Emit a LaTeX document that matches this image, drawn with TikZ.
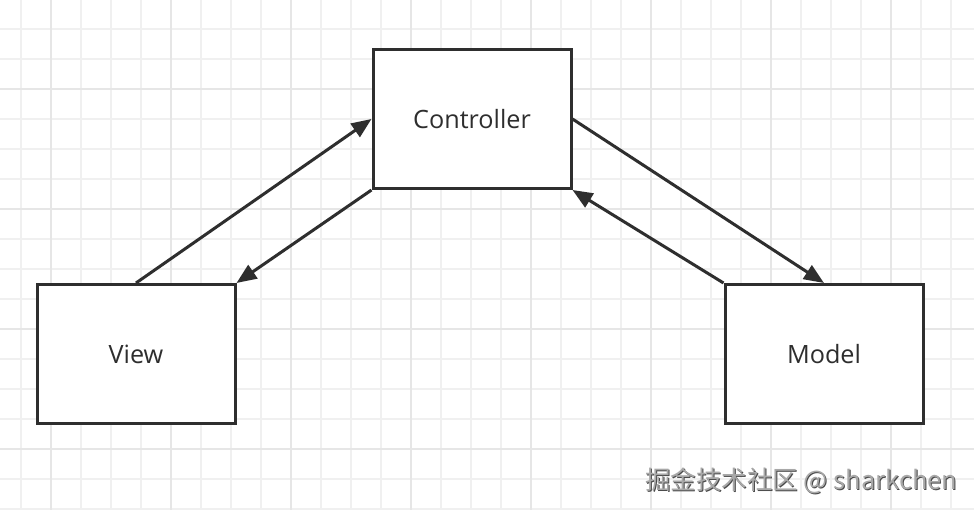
\documentclass[tikz,border=0pt]{standalone}
\usepackage{fontspec}
\setmainfont{Open Sans}
\newfontfamily\cjk{Noto Sans CJK SC}
\usetikzlibrary{arrows.meta}
\definecolor{ink}{HTML}{2E2E2E}
\definecolor{gridminor}{HTML}{F0F0F0}
\definecolor{gridmajor}{HTML}{E6E6E6}
\definecolor{wmfill}{HTML}{A8A8A8}
\definecolor{wmshadow}{HTML}{4A4A4A}
\tikzset{
  mvcbox/.style={draw=ink, fill=white, line width=3pt, minimum width=198pt, minimum height=139pt, inner sep=0pt, font=\fontsize{25.2}{30}\selectfont, text=ink},
  flow/.style={draw=ink, line width=3pt, -{Triangle[length=20pt,width=16pt]}},
  wm/.style={font=\cjk\fontsize{25.5}{30}\selectfont, anchor=west, inner sep=0pt}
}
\begin{document}
\begin{tikzpicture}[x=1pt,y=-1pt]
\fill[white] (0,0) rectangle (974,510);
\useasboundingbox (0,0) rectangle (974,510);
\foreach \x in {21,51,...,981} \draw[gridminor, line width=1.1pt] (\x,0) -- (\x,510);
\foreach \y in {-1,29,...,509} \draw[gridminor, line width=1.1pt] (0,\y) -- (974,\y);
\foreach \x in {51,171,...,891} \draw[gridmajor, line width=1.3pt] (\x,0) -- (\x,510);
\foreach \y in {89,209,...,449} \draw[gridmajor, line width=1.3pt] (0,\y) -- (974,\y);

\node[mvcbox] (ctrl) at (472,119) {Controller};
\node[mvcbox] (view) at (136,354) {View};
\node[mvcbox] (model) at (824,354) {Model};

\draw[flow] (view.north) -- (ctrl.west);
\draw[flow] (ctrl.south west) -- (view.north east);
\draw[flow] (ctrl.east) -- (model.north);
\draw[flow] (model.north west) -- (ctrl.south east);

\node[wm, text=wmshadow] (wmshade) at (646,482) {掘金技术社区 @ sharkchen};
\node[wm, text=wmfill] (wmtext) at (645,481) {掘金技术社区 @ sharkchen};
\end{tikzpicture}
\end{document}
